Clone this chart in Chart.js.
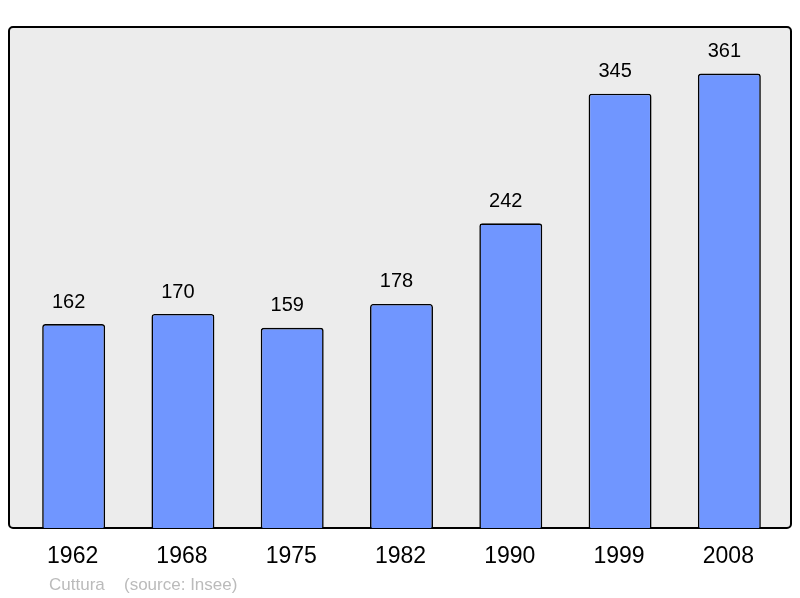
<!DOCTYPE html>
<html>
<head>
<meta charset="utf-8">
<script src="https://cdn.jsdelivr.net/npm/chart.js@4/dist/chart.umd.min.js"></script>
<style>
  html, body { margin: 0; padding: 0; background: #fff; }
  #wrap { width: 800px; height: 598px; position: relative; }
</style>
</head>
<body>
<div id="wrap"><canvas id="popChart" width="800" height="598"></canvas></div>
<script>
// Population data (Insee)
const years = ['1962', '1968', '1975', '1982', '1990', '1999', '2008'];
const population = [162, 170, 159, 178, 242, 345, 361];
const footerLeft = 'Cuttura';
const footerRight = '(source: Insee)';

// Grey framed background behind the bars, plus the labels
const framePlugin = {
    id: 'frame',
    beforeDatasetsDraw(chart) {
        const { ctx, chartArea } = chart;
        const x0 = chartArea.left - 10, x1 = chartArea.right + 7;
        const y0 = chartArea.top, y1 = chartArea.bottom;
        ctx.save();
        ctx.beginPath();
        ctx.roundRect(x0, y0, x1 - x0, y1 - y0, 4);
        ctx.fillStyle = '#ececec';
        ctx.fill();
        ctx.lineWidth = 2;
        ctx.strokeStyle = '#000';
        ctx.stroke();
        ctx.restore();
    },
    afterDatasetsDraw(chart) {
        const { ctx, chartArea } = chart;
        const meta = chart.getDatasetMeta(0);
        ctx.save();
        ctx.textAlign = 'center';
        ctx.textBaseline = 'middle';
        ctx.fillStyle = '#000';
        ctx.font = '20px "Liberation Sans", Arial, sans-serif';
        meta.data.forEach((bar, i) => {
            ctx.fillText(String(population[i]), bar.x - 5, bar.y - 22);
        });
        ctx.font = '23px "Liberation Sans", Arial, sans-serif';
        const xScale = chart.scales.x;
        years.forEach((y, i) => {
            ctx.fillText(y, xScale.getPixelForValue(i) - 1, chartArea.bottom + 29);
        });
        ctx.textAlign = 'left';
        ctx.fillStyle = '#bbbbbb';
        ctx.font = '17px "Liberation Sans", Arial, sans-serif';
        ctx.fillText(footerLeft, 49, chartArea.bottom + 57);
        ctx.fillText(footerRight, 124, chartArea.bottom + 57);
        ctx.restore();
    }
};

new Chart(document.getElementById('popChart'), {
    type: 'bar',
    data: {
        labels: years,
        datasets: [{
            data: population,
            backgroundColor: '#7096ff',
            borderColor: '#000',
            borderWidth: 1.6,
            borderRadius: 3,
            borderSkipped: 'bottom',
            barPercentage: 0.576,
            categoryPercentage: 1
        }]
    },
    options: {
        responsive: false,
        animation: false,
        layout: { padding: { left: 19, right: 16, top: 27, bottom: 70 } },
        plugins: { legend: { display: false }, tooltip: { enabled: false } },
        scales: {
            x: { display: false },
            y: { display: false, min: 0, max: 398 }
        }
    },
    plugins: [framePlugin]
});
</script>
</body>
</html>
